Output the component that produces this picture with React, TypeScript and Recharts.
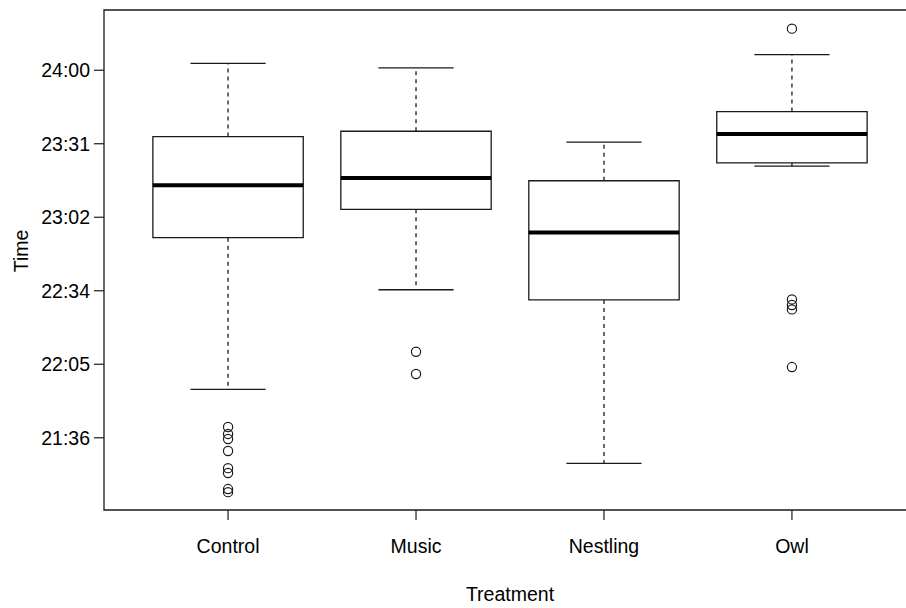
import { ComposedChart, XAxis, YAxis, ReferenceArea, ReferenceLine, Scatter } from "recharts";

// Time values are minutes after midnight (1440 = 24:00)
const treatments = ["Control", "Music", "Nestling", "Owl"];
const lowerWhisker = [1315.0, 1354.0, 1286.0, 1402.4];
const q1 = [1374.4, 1385.5, 1350.0, 1403.7];
const median = [1394.9, 1397.8, 1376.4, 1415.0];
const q3 = [1414.0, 1416.1, 1396.7, 1423.8];
const upperWhisker = [1442.7, 1440.9, 1411.8, 1446.1];

const controlOutliers = [1300.2, 1297.5, 1295.5, 1290.8, 1284.1, 1282.2, 1275.9, 1274.7];
const musicOutliers = [1329.7, 1321.0];
const nestlingOutliers: number[] = [];
const owlOutliers = [1456.3, 1350.2, 1348.0, 1346.3, 1323.7];

const yTicks = [1296, 1324.8, 1353.6, 1382.4, 1411.2, 1440];
const xTicks = [1, 2, 3, 4];

const FONT = "'Liberation Sans', Arial, Helvetica, sans-serif";
const INK = "#1a1a1a";

const outlierData = [controlOutliers, musicOutliers, nestlingOutliers, owlOutliers].flatMap((vals, i) =>
  vals.map(v => ({ x: i + 1, y: v }))
);

function fmtTime(v: number) {
  const m = Math.round(v);
  const h = Math.floor(m / 60);
  const mm = m % 60;
  return `${h}:${mm < 10 ? "0" + mm : mm}`;
}

const OpenCircle = (props: any) => (
  <circle cx={props.cx} cy={props.cy} r={4.6} fill="none" stroke={INK} strokeWidth={1.2} />
);

export default function App() {
  return (
    <div style={{ position: "fixed", left: 0, top: 0, width: 906, height: 608, overflow: "hidden", background: "#fff" }}>
      <ComposedChart
        width={930}
        height={608}
        margin={{ top: 10, right: 14, bottom: 0, left: 0 }}
        style={{ fontFamily: FONT }}
      >
        <XAxis
          type="number"
          dataKey="x"
          domain={[0.34, 4.66]}
          ticks={xTicks}
          allowDataOverflow
          height={98}
          tickFormatter={(v) => treatments[v - 1]}
          tick={{ fontSize: 19.5, fill: "#000" }}
          tickSize={10}
          tickMargin={19}
          tickLine={{ stroke: INK, strokeWidth: 1.2 }}
          axisLine={false}
          label={{
            content: (p: any) => {
              const vb = p.viewBox;
              return (
                <text x={vb.x + vb.width / 2} y={601} textAnchor="middle" fontSize={19.5} fill="#000" fontFamily={FONT}>
                  Treatment
                </text>
              );
            },
          }}
        />
        <YAxis
          type="number"
          dataKey="y"
          domain={[1267.7, 1463.6]}
          ticks={yTicks}
          allowDataOverflow
          width={104}
          tickFormatter={fmtTime}
          tick={{ fontSize: 19.5, fill: "#000" }}
          tickSize={10}
          tickMargin={4}
          tickLine={{ stroke: INK, strokeWidth: 1.2 }}
          axisLine={false}
          label={{
            content: () => (
              <text x={28} y={251} transform="rotate(-90, 28, 251)" textAnchor="middle" fontSize={19.5} fill="#000" fontFamily={FONT}>
                Time
              </text>
            ),
          }}
        />

        {/* plot frame */}
        <ReferenceArea x1={0.34} x2={4.66} y1={1267.7} y2={1463.6} fill="none" stroke={INK} strokeWidth={1.3} />

        {treatments.map((t, i) => (
          <ReferenceArea
            key={"box" + t}
            x1={i + 1 - 0.4}
            x2={i + 1 + 0.4}
            y1={q1[i]}
            y2={q3[i]}
            fill="none"
            stroke={INK}
            strokeWidth={1.3}
          />
        ))}
        {treatments.map((t, i) => (
          <ReferenceLine
            key={"wu" + t}
            segment={[{ x: i + 1, y: q3[i] }, { x: i + 1, y: upperWhisker[i] }]}
            stroke={INK}
            strokeWidth={1.3}
            strokeDasharray="4 4"
          />
        ))}
        {treatments.map((t, i) => (
          <ReferenceLine
            key={"wl" + t}
            segment={[{ x: i + 1, y: q1[i] }, { x: i + 1, y: lowerWhisker[i] }]}
            stroke={INK}
            strokeWidth={1.3}
            strokeDasharray="4 4"
          />
        ))}
        {treatments.map((t, i) => (
          <ReferenceLine
            key={"cu" + t}
            segment={[{ x: i + 1 - 0.2, y: upperWhisker[i] }, { x: i + 1 + 0.2, y: upperWhisker[i] }]}
            stroke={INK}
            strokeWidth={1.3}
          />
        ))}
        {treatments.map((t, i) => (
          <ReferenceLine
            key={"cl" + t}
            segment={[{ x: i + 1 - 0.2, y: lowerWhisker[i] }, { x: i + 1 + 0.2, y: lowerWhisker[i] }]}
            stroke={INK}
            strokeWidth={1.3}
          />
        ))}
        {treatments.map((t, i) => (
          <ReferenceLine
            key={"md" + t}
            segment={[{ x: i + 1 - 0.4, y: median[i] }, { x: i + 1 + 0.4, y: median[i] }]}
            stroke="#000"
            strokeWidth={4}
          />
        ))}

        <Scatter data={outlierData} dataKey="y" shape={OpenCircle} isAnimationActive={false} />
      </ComposedChart>
    </div>
  );
}
